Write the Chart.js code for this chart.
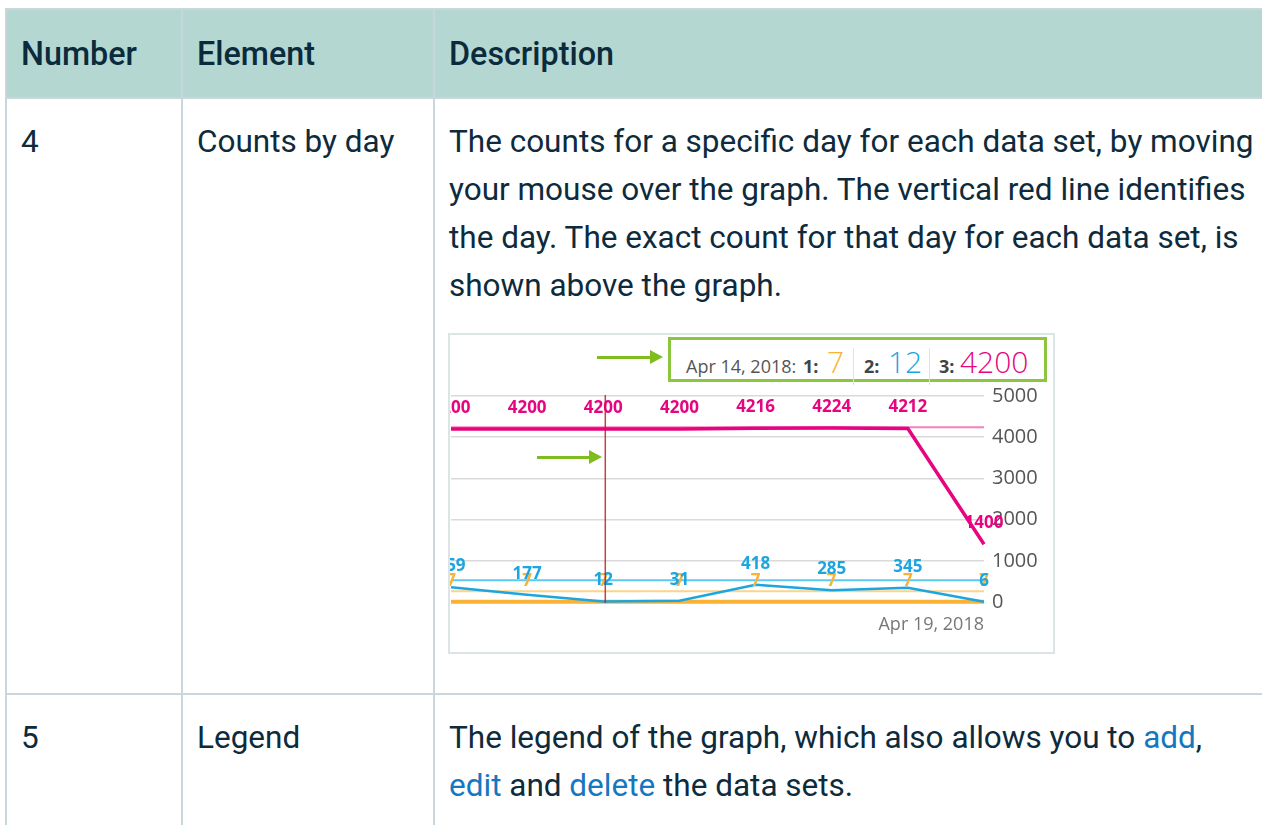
<!DOCTYPE html>
<html>
<head>
<meta charset="utf-8">
<script src="https://cdn.jsdelivr.net/npm/chart.js@4.4.1/dist/chart.umd.min.js"></script>
<style>
  html, body { margin: 0; padding: 0; background: #fff; overflow: hidden; width: 1262px; height: 825px; }

  /* ── Doc table ─────────────────────────────────────── */
  table.doc {
    position: absolute; left: 5px; top: 8px;
    border-collapse: collapse; table-layout: fixed; width: 1290px;
    font-family: Roboto, 'Liberation Sans', sans-serif; color: #0d2b3c;
  }
  table.doc th, table.doc td {
    border: 2px solid #c9d6dc; text-align: left; vertical-align: top;
    padding: 19px 14px 0 14px; font-size: 31.5px; line-height: 48px; white-space: nowrap;
  }
  table.doc th {
    background: #b5d7d2; font-weight: 500; font-size: 32.3px; color: #0a2b3c;
    height: 89px; padding-top: 0; padding-bottom: 0; vertical-align: middle; box-sizing: border-box;
  }
  tr.r1 td { height: 596px; box-sizing: border-box; }
  tr.r2 td { height: 200px; box-sizing: border-box; }
  table.doc a { color: #1577c0; text-decoration: none; }

  /* ── Screenshot box ─────────────────────────────────── */
  .shot {
    position: relative; margin: 23px 0 0 -1px; width: 607px; height: 321px;
    box-sizing: border-box; border: 2px solid #dde4e5; background: #fff;
    font-family: 'Open Sans', sans-serif; line-height: normal;
  }
  .shot canvas { position: absolute; left: 0; top: 0; }
  .readout {
    position: absolute; left: 218px; top: 2px; width: 379px; height: 45px; box-sizing: border-box;
    border: 3px solid #8cc63f; background: #fff; display: flex; align-items: baseline;
    padding-left: 15px; padding-top: 1px;
  }
  .readout span { flex: none; display: inline-block; }
  .readout .date { width: 117px; font-size: 18px; color: #555; }
  .readout .key { font-size: 18px; font-weight: 700; color: #444; }
  .readout .val { font-size: 30px; font-weight: 300; }
  .readout .sep { border-left: 1px solid #e2e2e2; line-height: 37px; }
  .arrow-shaft { position: absolute; height: 3px; background: #7fbc1e; }
  .arrow-head {
    position: absolute; width: 0; height: 0;
    border-left: 13px solid #7fbc1e; border-top: 7px solid transparent; border-bottom: 7px solid transparent;
  }
</style>
</head>
<body>

<table class="doc">
  <colgroup><col style="width:176px"><col style="width:252px"><col style="width:862px"></colgroup>
  <thead>
    <tr><th>Number</th><th>Element</th><th>Description</th></tr>
  </thead>
  <tbody>
    <tr class="r1">
      <td>4</td>
      <td>Counts by day</td>
      <td>The counts for a specific day for each data set, by moving<br>your mouse over the graph. The vertical red line identifies<br>the day. The exact count for that day for each data set, is<br>shown above the graph.
        <div class="shot">
          <canvas id="countsChart" width="603" height="317"></canvas>
          <div class="arrow-shaft" style="left:147px; top:21px; width:54px;"></div>
          <div class="arrow-head" style="left:200px; top:15px;"></div>
          <div class="arrow-shaft" style="left:87px; top:121px; width:53px;"></div>
          <div class="arrow-head" style="left:139px; top:115px;"></div>
          <div class="readout">
            <span class="date">Apr 14, 2018:</span>
            <span class="key" style="width:24px;">1:</span>
            <span class="val" style="width:26px; color:#f9b233;">7</span>
            <span class="key sep" style="width:24px; padding-left:10px;">2:</span>
            <span class="val" style="width:41px; color:#1ba6e0;">12</span>
            <span class="key sep" style="width:21px; padding-left:9px;">3:</span>
            <span class="val" style="color:#e6047f;">4200</span>
          </div>
        </div>
      </td>
    </tr>
    <tr class="r2">
      <td>5</td>
      <td>Legend</td>
      <td>The legend of the graph, which also allows you to <a href="#">add</a>,<br><a href="#">edit</a> and <a href="#">delete</a> the data sets.</td>
    </tr>
  </tbody>
</table>

<script>
// ── Data ────────────────────────────────────────────────

const dates = ['Apr 12, 2018', 'Apr 13, 2018', 'Apr 14, 2018', 'Apr 15, 2018',
               'Apr 16, 2018', 'Apr 17, 2018', 'Apr 18, 2018', 'Apr 19, 2018'];
const set1Counts = [7, 7, 7, 7, 7, 7, 7, 7];
const set2Counts = [359, 177, 12, 31, 418, 285, 345, 6];
const set3Counts = [4200, 4200, 4200, 4200, 4216, 4224, 4212, 1400];
// faint reference levels drawn behind each data set
const set1Level = [260, 260, 260, 260, 260, 260, 260, 260];
const set2Level = [530, 530, 530, 530, 530, 530, 530, 530];
const set3Level = [4240, 4240, 4240, 4240, 4240, 4240, 4240, 4240];
const yTicks = [0, 1000, 2000, 3000, 4000, 5000];
const hoverIndex = 2;

// ── Colors ──────────────────────────────────────────────

const SET_COLORS = {
  set1: '#f9b233',
  set2: '#1ba6e0',
  set3: '#e6047f',
  set1Light: '#fdd38a',
  set2Light: '#5fc8f0',
  set3Light: '#f383bb',
};

// ── Plugins ─────────────────────────────────────────────

// value text above every point of the three count series
const valueLabels = {
  id: 'valueLabels',
  afterDatasetsDraw(chart) {
    const ctx = chart.ctx;
    ctx.save();
    ctx.font = "bold 17px 'Open Sans'";
    ctx.textAlign = 'center';
    ctx.textBaseline = 'middle';
    [1, 2, 0].forEach(di => {
      const ds = chart.data.datasets[di];
      chart.getDatasetMeta(di).data.forEach((pt, i) => {
        ctx.fillStyle = ds.borderColor;
        ctx.fillText(String(ds.data[i]), pt.x, pt.y - 21);
      });
    });
    ctx.restore();
  },
};

// vertical red line marking the hovered day
const hoverLine = {
  id: 'hoverLine',
  afterDraw(chart) {
    const x = chart.scales.x.getPixelForValue(hoverIndex) + 2;
    const { top, bottom } = chart.chartArea;
    const ctx = chart.ctx;
    ctx.save();
    ctx.strokeStyle = 'rgba(190, 30, 35, 0.85)';
    ctx.lineWidth = 1.5;
    ctx.beginPath();
    ctx.moveTo(x, top - 1);
    ctx.lineTo(x, bottom + 1);
    ctx.stroke();
    ctx.restore();
  },
};

// ── Chart ───────────────────────────────────────────────

function line(data, color, width) {
  return { data, borderColor: color, borderWidth: width, pointRadius: 0, tension: 0, fill: false, clip: 4 };
}

new Chart(document.getElementById('countsChart'), {
  type: 'line',
  data: {
    labels: dates,
    datasets: [
      line(set2Counts, SET_COLORS.set2, 2.5),
      line(set3Counts, SET_COLORS.set3, 3.5),
      line(set1Counts, SET_COLORS.set1, 4),
      line(set2Level, SET_COLORS.set2Light, 2),
      line(set1Level, SET_COLORS.set1Light, 2),
      line(set3Level, SET_COLORS.set3Light, 2),
    ],
  },
  options: {
    responsive: false,
    animation: false,
    layout: { padding: { top: 61, left: 1, right: 0, bottom: 0 } },
    plugins: { legend: { display: false }, tooltip: { enabled: false } },
    scales: {
      x: {
        offset: false,
        border: { display: false },
        grid: { display: false, drawTicks: false },
        afterFit: s => { s.height = 50; s.paddingLeft = 0; s.paddingRight = 0; },
        ticks: {
          autoSkip: false, maxRotation: 0, align: 'inner', padding: 12,
          color: '#777', font: { family: "'Open Sans'", size: 18 },
          callback: (v, i) => (i === dates.length - 1 ? dates[i] : ''),
        },
      },
      y: {
        position: 'right',
        min: yTicks[0],
        max: yTicks[yTicks.length - 1],
        border: { display: false },
        grid: { color: '#dadada', lineWidth: 1.5, drawTicks: false },
        afterFit: s => { s.width = 69; },
        afterBuildTicks: s => { s.ticks = yTicks.map(v => ({ value: v })); },
        ticks: {
          padding: 8, color: '#555', font: { family: "'Open Sans'", size: 20 },
          callback: v => String(v),
        },
      },
    },
  },
  plugins: [valueLabels, hoverLine],
});
</script>
</body>
</html>
